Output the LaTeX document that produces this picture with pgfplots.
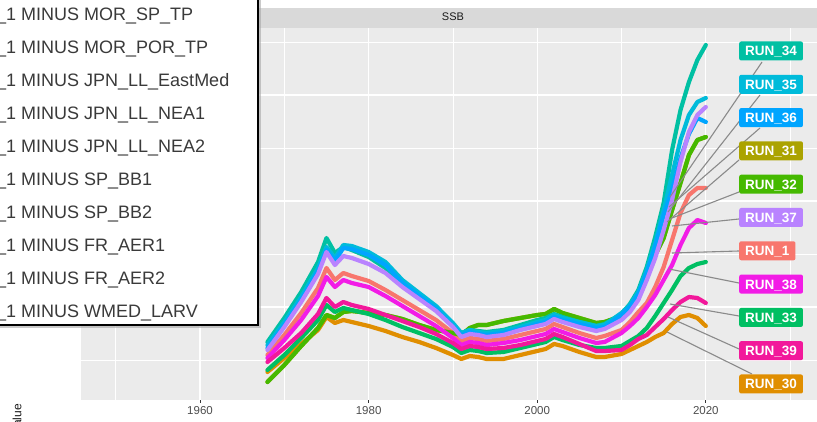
\documentclass[border=0pt]{standalone}
\usepackage{fontspec}
\setmainfont{Liberation Sans}
\usepackage{pgfplots}
\usepackage{pgfplotstable}
\pgfplotsset{compat=1.18}

\definecolor{panelbg}{HTML}{EBEBEB}
\definecolor{stripbg}{HTML}{D9D9D9}
\definecolor{ticktext}{HTML}{4D4D4D}
\definecolor{tickcol}{HTML}{333333}
\definecolor{boxtext}{HTML}{3A3A3A}
\definecolor{leader}{HTML}{8A8A8A}
\definecolor{c1}{HTML}{F8766D}
\definecolor{c30}{HTML}{E08E00}
\definecolor{c31}{HTML}{ABA300}
\definecolor{c32}{HTML}{45B900}
\definecolor{c33}{HTML}{00BF63}
\definecolor{c34}{HTML}{00C0A3}
\definecolor{c35}{HTML}{00BBDA}
\definecolor{c36}{HTML}{00A5FF}
\definecolor{c37}{HTML}{B983FF}
\definecolor{c38}{HTML}{F21CE6}
\definecolor{c39}{HTML}{F2189B}

% SSB by run (arbitrary units)
\pgfplotstableread{
year r1  r30 r31 r32 r33 r34 r35 r36 r37 r38 r39
1968 58  41  31  31  43  71  68  65  63  55  51
1970 78  55  48  48  58  95  91  88  86  73  65
1972 100 69  67  67  75  121 116 113 111 93  80
1974 125 83  85  85  93  151 145 142 139 117 99
1975 145 96  98  98  108 175 166 163 161 136 115
1976 133 90  95  95  101 160 155 152 148 126 106
1977 140 93  101 101 105 166 168 165 157 133 111
1978 137 91  102 102 103 163 167 164 155 130 108
1980 132 87  100 100 99  156 161 158 149 126 104
1982 123 82  98  98  93  145 151 148 140 117 98
1984 113 76  94  94  86  128 133 130 126 107 92
1986 103 71  88  88  80  115 120 117 114 97  86
1988 93  65  83  83  74  103 107 104 102 87  79
1990 80  58  80  80  66  88  90  87  86  75  70
1991 72  54  78  78  60  80  80  78  76  68  64
1992 75  57  85  85  63  83  83  81  79  71  67
1993 74  56  88  88  62  82  81  79  78  70  66
1994 72  54  88  88  60  81  80  78  76  68  64
1996 74  54  92  92  61  83  82  80  78  70  65
1998 78  58  95  95  65  88  86  84  83  73  68
2000 82  62  98  98  69  93  91  89  87  77  72
2001 84  64  99  99  71  95  93  91  89  79  74
2002 89  69  104 104 76  99  98  96  94  84  79
2003 86  67  100 100 73  96  95  93  91  81  76
2005 80  61  95  95  68  91  91  89  86  75  69
2007 75  56  90  90  65  87  87  85  82  70  62
2008 77  56  91  91  65  89  88  86  84  71  62
2010 83  59  97  97  67  99  100 98  93  80  63
2011 91  63  105 105 72  109 108 106 101 87  68
2012 101 67  117 117 77  123 121 119 113 95  74
2013 110 71  137 137 85  146 143 140 133 106 78
2014 126 76  158 158 97  176 170 167 155 118 86
2015 146 80  175 175 110 210 203 198 183 133 94
2016 173 89  203 203 123 263 238 223 213 148 103
2017 200 96  230 230 137 303 273 255 251 168 111
2018 218 98  258 258 145 331 298 279 281 185 116
2019 225 95  273 273 149 353 311 295 298 193 115
2020 225 87  276 276 151 368 315 291 306 190 110
}\ssb

\begin{document}
\begin{tikzpicture}[
  leaderline/.style={leader, line width=1.1pt},
  runlab/.style={anchor=west, rounded corners=2pt, inner xsep=6pt,
    inner ysep=4.5pt, text height=10pt, text depth=0pt, text=white,
    font=\fontsize{13.5}{16}\selectfont\bfseries}
]
\begin{axis}[
    at={(81pt,22pt)}, anchor=south west,
    scale only axis, width=744pt, height=372pt,
    xmin=1945.88, xmax=2034.14, ymin=13, ymax=385,
    axis background/.style={fill=panelbg},
    axis line style={draw=none},
    xtick={1960,1980,2000,2020},
    minor xtick={1950,1970,1990,2010,2030},
    ytick={106,212,318}, minor ytick={53,159,265,371},
    yticklabels={},
    grid=both,
    major grid style={white, line width=1.1pt},
    minor grid style={white, line width=0.55pt},
    tick align=outside, xtick pos=bottom,
    major tick length=3pt, minor tick length=0pt,
    xtick style={color=tickcol, line width=1pt},
    ytick style={draw=none},
    xticklabel style={font=\fontsize{11.5}{13}\selectfont, text=ticktext},
    /pgf/number format/assume math mode=true,
    /pgf/number format/1000 sep={},
    clip=false,
    every axis plot/.append style={line width=4.2pt, line join=round, line cap=round},
  ]
  \addplot[c1]  table[x=year, y=r1]  {\ssb};
  \addplot[c30] table[x=year, y=r30] {\ssb};
  \addplot[c31] table[x=year, y=r31] {\ssb};
  \addplot[c32] table[x=year, y=r32] {\ssb};
  \addplot[c33] table[x=year, y=r33] {\ssb};
  \addplot[c34] table[x=year, y=r34] {\ssb};
  \addplot[c35] table[x=year, y=r35] {\ssb};
  \addplot[c36] table[x=year, y=r36] {\ssb};
  \addplot[c37] table[x=year, y=r37] {\ssb};
  \addplot[c38] table[x=year, y=r38] {\ssb};
  \addplot[c39] table[x=year, y=r39] {\ssb};

  % label leaders
  \draw[leaderline] (axis cs:2026.67,351) -- (axis cs:2015.75,216);
  \draw[leaderline] (axis cs:2026.43,318) -- (axis cs:2015.52,201);
  \draw[leaderline] (axis cs:2026.43,285) -- (axis cs:2015.63,206);
  \draw[leaderline] (axis cs:2023.94,253) -- (axis cs:2015.40,191);
  \draw[leaderline] (axis cs:2023.94,221) -- (axis cs:2015.99,195);
  \draw[leaderline] (axis cs:2023.94,194) -- (axis cs:2015.99,187);
  \draw[leaderline] (axis cs:2023.94,162) -- (axis cs:2015.99,160);
  \draw[leaderline] (axis cs:2023.94,130) -- (axis cs:2015.63,144);
  \draw[leaderline] (axis cs:2023.94,97)  -- (axis cs:2015.75,109);
  \draw[leaderline] (axis cs:2023.94,64)  -- (axis cs:2015.52,96);
  \draw[leaderline] (axis cs:2025.48,39)  -- (axis cs:2015.40,81);

  \node[runlab, fill=c34] at (axis cs:2023.94,362)   {RUN\_34};
  \node[runlab, fill=c35] at (axis cs:2023.94,328.7) {RUN\_35};
  \node[runlab, fill=c36] at (axis cs:2023.94,295.4) {RUN\_36};
  \node[runlab, fill=c31] at (axis cs:2023.94,262.1) {RUN\_31};
  \node[runlab, fill=c32] at (axis cs:2023.94,228.8) {RUN\_32};
  \node[runlab, fill=c37] at (axis cs:2023.94,195.5) {RUN\_37};
  \node[runlab, fill=c1]  at (axis cs:2023.94,162.2) {RUN\_1};
  \node[runlab, fill=c38] at (axis cs:2023.94,128.9) {RUN\_38};
  \node[runlab, fill=c33] at (axis cs:2023.94,95.6)  {RUN\_33};
  \node[runlab, fill=c39] at (axis cs:2023.94,62.3)  {RUN\_39};
  \node[runlab, fill=c30] at (axis cs:2023.94,29)    {RUN\_30};
\end{axis}

\begin{scope}[x=1pt, y=-1pt, yshift=422pt]
  % facet strip
  \fill[stripbg] (81,8) rectangle (825,28);
  \node[font=\fontsize{11}{13}\selectfont, text=black!90] at (453,17) {SSB};
  % y title, mostly cut off
  \node[rotate=90, anchor=east, inner sep=0pt, font=\fontsize{12}{14}\selectfont, text=black!90]
    at (17,404) {Value};
  % hover box
  \fill[black!35, opacity=0.6] (-3,-3) rectangle (261,328);
  \draw[line width=2pt, fill=white] (-6,-6) rectangle (258,325);
  \foreach \t [count=\i from 0] in {%
      \_1 MINUS MOR\_SP\_TP, \_1 MINUS MOR\_POR\_TP, \_1 MINUS JPN\_LL\_EastMed,
      \_1 MINUS JPN\_LL\_NEA1, \_1 MINUS JPN\_LL\_NEA2, \_1 MINUS SP\_BB1,
      \_1 MINUS SP\_BB2, \_1 MINUS FR\_AER1, \_1 MINUS FR\_AER2,
      \_1 MINUS WMED\_LARV}
    \node[anchor=base west, inner sep=0pt, text=boxtext, font=\fontsize{18}{20}\selectfont]
      at (-4,20.5+33*\i) {\t};
\end{scope}

\pgfresetboundingbox
\path[use as bounding box] (0,0) rectangle (817pt,422pt);
\end{tikzpicture}
\end{document}
